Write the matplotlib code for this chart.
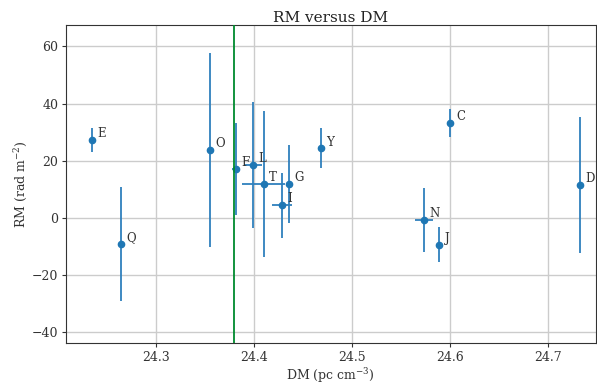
import matplotlib
matplotlib.use("Agg")
import matplotlib.pyplot as plt

# source names and measured values
names = ['E', 'Q', 'O', 'F', 'L', 'T', 'G', 'I', 'Y', 'N', 'J', 'C', 'D']
dm = [24.2347, 24.264, 24.355, 24.3816, 24.399, 24.410, 24.4354, 24.4289, 24.468, 24.574, 24.589, 24.6007, 24.733]
dm_err = [0.0, 0.0, 0.0, 0.004, 0.009, 0.022, 0.002, 0.010, 0.0, 0.009, 0.0, 0.0, 0.0]
rm = [27.3, -9.1, 23.8, 17.1, 18.5, 11.9, 11.9, 4.5, 24.4, -0.7, -9.3, 33.3, 11.5]
rm_err = [4.2, 19.8, 34.0, 16.0, 22.0, 25.5, 13.5, 11.4, 7.0, 11.1, 6.2, 4.8, 23.7]

dm_line = 24.380

plt.rcParams['font.family'] = 'DejaVu Serif'
plt.rcParams['mathtext.fontset'] = 'dejavuserif'

fig = plt.figure(figsize=(5.97, 3.85), dpi=100)
ax = fig.add_axes([0.1106, 0.109, 0.887, 0.826])

ax.errorbar(dm, rm, xerr=dm_err, yerr=rm_err, fmt='o', color='#1f77b4',
            ecolor='#2f80bd', elinewidth=1.3, markersize=4.5, zorder=3)
for n, x, y in zip(names, dm, rm):
    ax.annotate(n, (x, y), xytext=(4, 2), textcoords='offset points',
                fontsize=8.5, color='#333333')

ax.axvline(dm_line, color='#008a2e', linewidth=1.3, zorder=4)

ax.set_xlim(24.208, 24.749)
ax.set_ylim(-43.7, 67.5)
ax.set_xticks([24.3, 24.4, 24.5, 24.6, 24.7])
ax.set_yticks([-40, -20, 0, 20, 40, 60])
ax.grid(True, color='#cccccc', linewidth=1)
ax.set_axisbelow(True)
ax.tick_params(labelsize=9, length=3, pad=2.5, color='#333333', labelcolor='#333333')
for s in ax.spines.values():
    s.set_color('#333333')

ax.set_title('RM versus DM', fontsize=11, color='#222222', pad=2)
ax.set_xlabel('DM (pc cm$^{-3}$)', fontsize=9, color='#333333', labelpad=2)
ax.set_ylabel('RM (rad m$^{-2}$)', fontsize=9, color='#333333', labelpad=2)

fig.savefig('out.png', dpi=100)
